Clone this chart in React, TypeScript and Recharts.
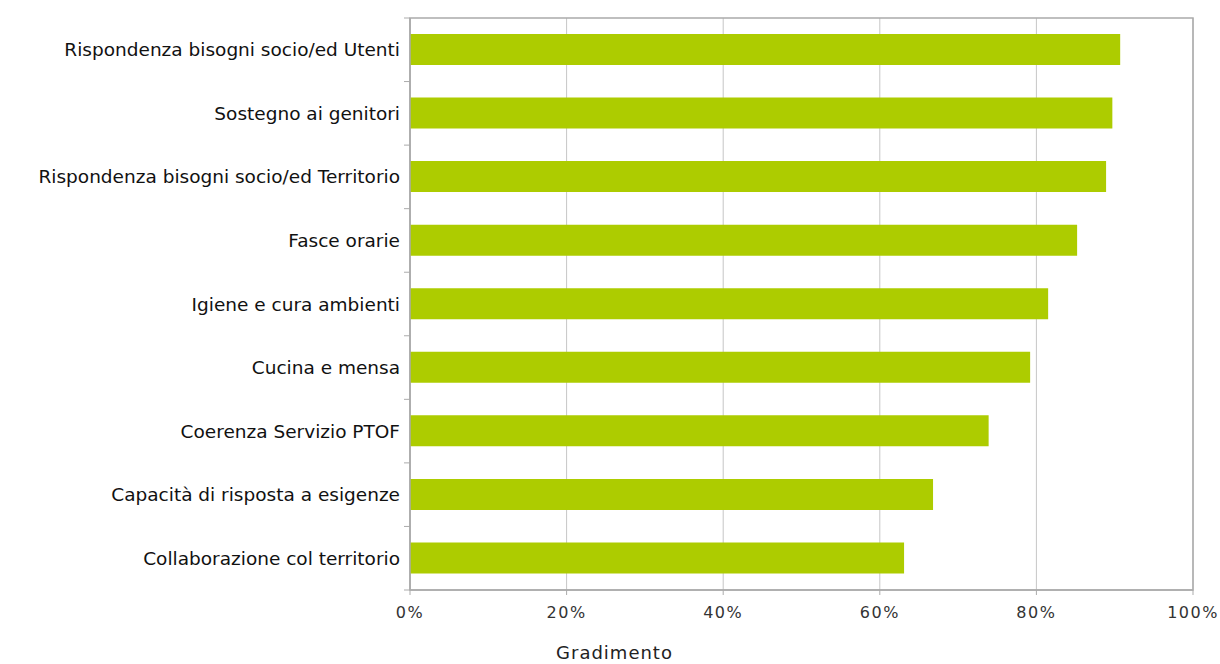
import React from 'react';
import { BarChart, Bar, XAxis, YAxis, CartesianGrid, Label, ReferenceArea } from 'recharts';

const categories = [
  'Rispondenza bisogni socio/ed Utenti',
  'Sostegno ai genitori',
  'Rispondenza bisogni socio/ed Territorio',
  'Fasce orarie',
  'Igiene e cura ambienti',
  'Cucina e mensa',
  'Coerenza Servizio PTOF',
  'Capacità di risposta a esigenze',
  'Collaborazione col territorio',
];
const gradimento = [90.7, 89.7, 88.9, 85.2, 81.5, 79.2, 73.9, 66.8, 63.1];
const xTicks = [0, 20, 40, 60, 80, 100];

const data = categories.map((name, i) => ({ name, value: gradimento[i] }));

const FONT = '"DejaVu Sans", Verdana, sans-serif';
const AXIS = '#ababab';
const GRID = '#c6c6c6';

function CategoryTick(props: any) {
  const { x, y, payload, index, visibleTicksCount } = props;
  const half = payload?.offset ?? 0;
  const axisX = x + 10;
  const isLast = index === (visibleTicksCount ?? categories.length) - 1;
  return (
    <g>
      <line x1={axisX - 6} x2={axisX} y1={y - half} y2={y - half} stroke={AXIS} />
      {isLast && <line x1={axisX - 6} x2={axisX} y1={y + half} y2={y + half} stroke={AXIS} />}
      <text
        x={x}
        y={y}
        dy="0.355em"
        textAnchor="end"
        fill="#111"
        fontSize={18.5}
        fontFamily={FONT}
      >
        {payload.value}
      </text>
    </g>
  );
}

export default function App() {
  return (
    <div style={{ position: 'absolute', left: 0, top: 0, background: '#fff' }}>
      <BarChart
        width={1220}
        height={664}
        data={data}
        layout="vertical"
        margin={{ top: 18, right: 27, left: 0, bottom: 0 }}
        barCategoryGap={0}
        style={{ fontFamily: FONT }}
      >
        <CartesianGrid horizontal={false} stroke={GRID} />
        <XAxis
          type="number"
          domain={[0, 100]}
          ticks={xTicks}
          tickFormatter={(v) => `${v}%`}
          axisLine={{ stroke: AXIS, strokeWidth: 1.5 }}
          tickLine={{ stroke: AXIS }}
          tickSize={5}
          tickMargin={12}
          tick={{ fill: '#333', fontSize: 16, letterSpacing: 1.5, fontFamily: FONT }}
          height={74}
          interval={0}
        >
          <Label
            value="Gradimento"
            position="insideBottom"
            offset={5}
            dx={-187}
            style={{ fill: '#222', fontSize: 18, letterSpacing: 1, fontFamily: FONT }}
          />
        </XAxis>
        <YAxis
          type="category"
          dataKey="name"
          width={410}
          axisLine={{ stroke: AXIS, strokeWidth: 1.5 }}
          tickLine={false}
          tickSize={0}
          tickMargin={10}
          interval={0}
          tick={<CategoryTick />}
        />
        <ReferenceArea
          x1={0}
          x2={100}
          y1={categories[0]}
          y2={categories[categories.length - 1]}
          fill="none"
          fillOpacity={0}
          stroke={AXIS}
          strokeWidth={1.5}
        />
        <Bar dataKey="value" fill="#adcc00" barSize={31} isAnimationActive={false} />
      </BarChart>
    </div>
  );
}
